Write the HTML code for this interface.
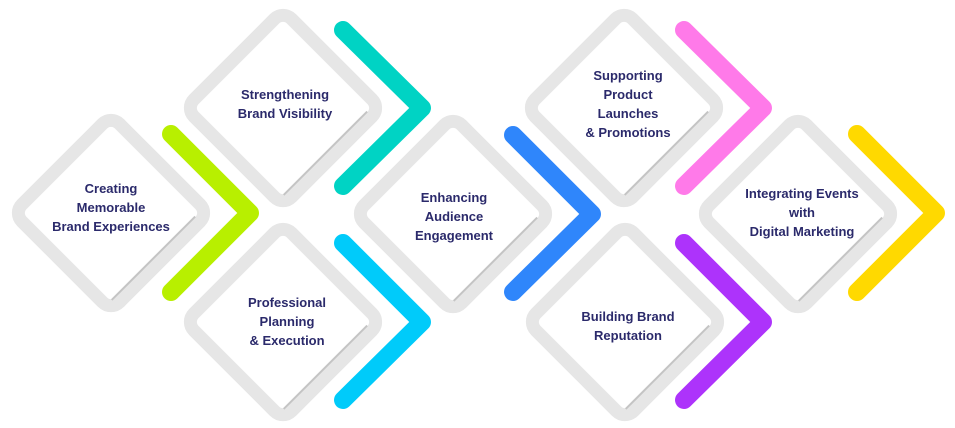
<!DOCTYPE html>
<html><head><meta charset="utf-8"><style>
html,body{margin:0;padding:0;background:#fff;}
svg{display:block;}
text{font-family:"Liberation Sans",sans-serif;font-weight:bold;font-size:13px;fill:#2b2a6b;text-anchor:middle;}
</style></head><body>
<svg width="955" height="428" viewBox="0 0 955 428" xmlns="http://www.w3.org/2000/svg">
<defs>
<g id="d">
<rect x="-69" y="-69" width="138" height="138" rx="12" fill="#fff" stroke="#e6e6e6" stroke-width="13" transform="rotate(45)"/>
<line x1="62" y1="-57" x2="62" y2="61" stroke="#c4c4c4" stroke-width="2" transform="rotate(45)"/>
</g>
</defs>
<g fill="none" stroke-width="18" stroke-linecap="round" stroke-linejoin="round">
<polyline points="171,134 250,213 171,292" stroke="#b8ef00"/>
<polyline points="343,30 422,108 343,186" stroke="#00d3c4"/>
<polyline points="343,243 422,322 343,400" stroke="#00cbfa"/>
<polyline points="513,135 592,214 513,292" stroke="#2f86fb"/>
<polyline points="684,30 763,108 684,186" stroke="#ff7ae9"/>
<polyline points="684,243 763,322 684,400" stroke="#ad33fb"/>
<polyline points="857,134 936,213 857,292" stroke="#ffd900"/>
</g>
<use href="#d" transform="translate(111,213)"/>
<use href="#d" transform="translate(283,108)"/>
<use href="#d" transform="translate(283,322)"/>
<use href="#d" transform="translate(453,214)"/>
<use href="#d" transform="translate(624,108)"/>
<use href="#d" transform="translate(625,322)"/>
<use href="#d" transform="translate(798,214)"/>

<text x="111" y="193">Creating</text>
<text x="111" y="212">Memorable</text>
<text x="111" y="231">Brand Experiences</text>

<text x="285" y="99">Strengthening</text>
<text x="285" y="118">Brand Visibility</text>

<text x="287" y="307">Professional</text>
<text x="287" y="326">Planning</text>
<text x="287" y="345">&amp; Execution</text>

<text x="454" y="202">Enhancing</text>
<text x="454" y="221">Audience</text>
<text x="454" y="240">Engagement</text>

<text x="628" y="80">Supporting</text>
<text x="628" y="99">Product</text>
<text x="628" y="118">Launches</text>
<text x="628" y="137">&amp; Promotions</text>

<text x="628" y="321">Building Brand</text>
<text x="628" y="340">Reputation</text>

<text x="802" y="198">Integrating Events</text>
<text x="802" y="217">with</text>
<text x="802" y="236">Digital Marketing</text>
</svg>
</body></html>
